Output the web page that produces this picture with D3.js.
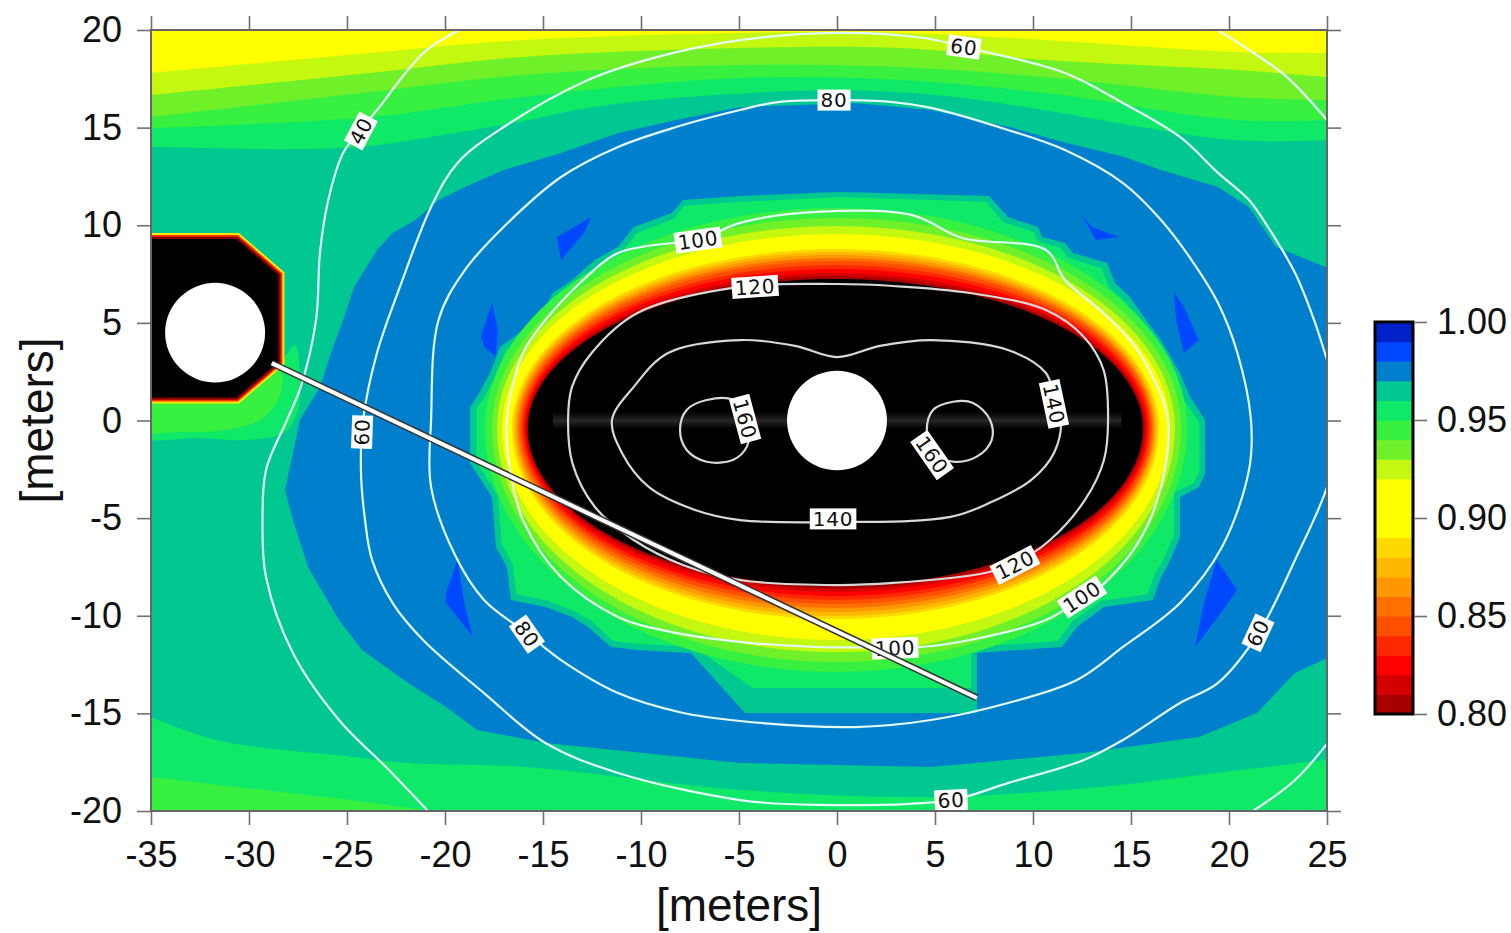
<!DOCTYPE html>
<html><head><meta charset="utf-8">
<script src="https://cdn.jsdelivr.net/npm/d3@7/dist/d3.min.js"></script>
<style>
html,body{margin:0;padding:0;background:#fff;}
svg{display:block;}
text{font-family:"Liberation Sans",Arial,Helvetica,sans-serif;}
</style></head><body>
<svg id="chart" width="1511" height="933"></svg>
<script>
// ---------------- DATA (meters / values) ----------------
const xTicks = [-35,-30,-25,-20,-15,-10,-5,0,5,10,15,20,25];
const yTicks = [-20,-15,-10,-5,0,5,10,15,20];
const cbTicks = [0.80,0.85,0.90,0.95,1.00];
const cbBands = [0.80,0.81,0.82,0.83,0.84,0.85,0.86,0.87,0.88,0.89,0.90,0.91,0.92,0.93,0.94,0.95,0.96,0.97,0.98,0.99];
const bandColors = ["#a80000","#d40000","#ff0000","#ff2800","#ff5000","#ff7000","#ff9800","#ffb800","#ffd800",
  "#ffff00","#ffff00","#ffff00","#c4f810","#70f028","#38f040","#10e868","#00c890","#0080cc","#0048ff","#0020c8"];

// top bands: boundary polylines, values above boundary are below the level
const topBandLevels = [0.96,0.95,0.94,0.93,0.92];
const topBandLines = [
  [[-35,14.01],[-27.40,13.90],[-23.83,14.06],[-19.74,14.68],[-16.02,15.34],[-12.09,16.11],[-4.95,16.75],[0.92,16.90],[5.77,16.60],[10.66,15.88],[15.97,14.96],[20.41,14.35],[25,14.35]],
  [[-35,14.98],[-23.83,15.54],[-16.02,16.57],[-4.95,17.54],[3.21,17.44],[10.66,16.77],[20.41,15.39],[25,15.39]],
  [[-35,15.54],[-23.83,16.82],[-16.02,17.70],[-4.95,18.21],[3.21,18.10],[10.66,17.59],[20.41,16.57],[25,16.41]],
  [[-35,16.67],[-23.83,17.80],[-16.02,18.62],[-4.95,19.08],[3.21,19.08],[10.66,18.46],[20.41,17.95],[25,17.59]],
  [[-35,17.80],[-23.83,18.82],[-16.02,19.49],[-4.95,19.85],[3.21,19.85],[10.66,19.49],[20.41,18.87],[25,18.82]]
];
const bottomBandLevels = [0.96,0.95];
const bottomBandLines = [
  [[-35,-15.19],[-31.68,-16.36],[-24.64,-17.23],[-21.89,-17.54],[-16.02,-17.74],[-4.95,-18.92],[4.80,-19.28],[13.42,-18.77],[18.52,-18.15],[25,-17.38]],
  [[-35,-18.26],[-30.66,-18.77],[-24.85,-19.44],[-20.77,-20.0]]
];
// greens around the left structure
const sideGreenLevels = [0.96,0.95];
const sideGreenRings = [
  [[-35.5,1.31],[-30.46,1.31],[-28.32,3.10],[-27.65,3.87],[-27.40,2.07],[-27.50,0.54],[-28.16,-0.59],[-30.20,-1.00],[-32.50,-0.90],[-35.5,-0.79]],
  [[-35.5,1.25],[-30.61,1.25],[-28.83,2.79],[-28.32,2.33],[-28.52,1.05],[-29.44,0.03],[-31.22,-0.49],[-33.52,-0.59],[-35.5,-0.49]]
];
// outer edge of the 0.97 (blue) zone
const blueOuter = [[-4.95,16.06],[0.92,16.26],[4.80,15.90],[8.72,15.06],[11.63,14.24],[14.59,13.52],[16.53,12.83],[19.44,11.96],[21.02,10.93],[22.40,8.89],[25.6,7.6],[25.6,-11.9],[23.37,-12.93],[21.43,-14.98],[18.47,-16.21],[12.60,-17.03],[4.80,-17.75],[-4.95,-17.54],[-14.85,-16.52],[-18.37,-15.85],[-19.95,-14.67],[-21.89,-13.44],[-24.23,-11.75],[-25.41,-10.22],[-26.99,-7.50],[-27.76,-5.10],[-28.16,-3.56],[-27.40,0.03],[-26.38,1.72],[-25.82,3.46],[-25.20,5.15],[-24.64,6.84],[-23.47,8.73],[-22.67,9.60],[-21.51,10.27],[-20.33,11.29],[-18.98,11.96],[-17.01,12.83],[-14.08,13.70],[-11.17,14.72],[-8.21,15.39]];
// 0.98 patches
const bluePatches = [
  [[-14.29,9.40],[-12.52,10.42],[-12.91,9.60],[-14.08,8.22]],
  [[-17.60,6.02],[-17.30,4.64],[-17.40,3.25],[-17.99,3.76],[-18.18,4.28]],
  [[12.43,10.63],[13.01,9.91],[14.39,9.40],[13.21,9.24]],
  [[17.19,6.58],[17.70,5.81],[18.47,4.12],[17.70,3.46],[17.30,5.15]],
  [[-19.36,-7.14],[-18.98,-9.55],[-18.57,-11.09],[-19.95,-9.35],[-19.95,-8.83]],
  [[19.36,-7.14],[20.43,-8.68],[19.44,-10.06],[18.27,-11.60],[18.67,-9.55]]
];
// inner edge of blue zone (0.97) and of the 0.96 zone
const ring97 = [[-7.86,11.29],[-4.95,11.50],[0.15,11.70],[7.76,11.50],[8.72,10.42],[10.26,9.91],[10.46,9.40],[11.63,9.09],[12.04,8.58],[13.78,8.07],[14.18,7.04],[14.95,6.33],[15.77,5.15],[16.53,4.12],[17.50,2.43],[18.01,1.20],[18.78,0.03],[18.78,-2.69],[18.47,-3.41],[17.50,-3.92],[17.50,-5.97],[16.94,-7.30],[16.53,-8.02],[16.12,-9.19],[13.62,-9.55],[12.24,-10.58],[11.48,-11.60],[7.14,-11.91],[7.14,-14.98],[-4.69,-14.98],[-7.45,-11.91],[-10.20,-11.75],[-11.53,-11.60],[-12.70,-10.58],[-13.52,-10.06],[-14.85,-9.55],[-16.63,-9.19],[-16.84,-7.50],[-17.40,-6.48],[-17.60,-3.92],[-18.72,-2.18],[-18.72,0.69],[-18.37,1.20],[-17.70,2.43],[-17.19,3.76],[-16.02,4.64],[-15.05,5.51],[-14.49,6.53],[-13.52,7.20],[-12.35,8.22],[-11.17,8.89],[-10.36,9.91],[-8.42,10.63]];
const ring96 = [[-7.8,11.0],[-4.95,11.2],[0.15,11.45],[7.6,11.2],[8.5,10.15],[10.05,9.65],[10.25,9.15],[11.4,8.85],[11.8,8.35],[13.5,7.8],[13.9,6.8],[14.7,6.1],[15.5,4.95],[16.25,3.9],[17.2,2.3],[17.7,1.05],[18.5,-0.1],[18.5,-2.6],[18.2,-3.2],[17.2,-3.7],[17.2,-5.85],[16.65,-7.15],[16.25,-7.8],[15.85,-8.9],[13.45,-9.25],[12.0,-10.3],[11.25,-11.3],[6.85,-11.6],[6.85,-13.7],[-4.3,-13.7],[-7.3,-11.6],[-10.1,-11.45],[-11.4,-11.3],[-12.5,-10.3],[-13.35,-9.8],[-14.7,-9.25],[-16.35,-8.9],[-16.55,-7.35],[-17.1,-6.35],[-17.3,-3.85],[-18.4,-2.1],[-18.4,0.65],[-18.05,1.1],[-17.4,2.3],[-16.9,3.6],[-15.75,4.45],[-14.8,5.3],[-14.25,6.3],[-13.3,6.95],[-12.15,7.95],[-11.0,8.6],[-10.2,9.6],[-8.3,10.35]];
// smooth rings around the central structure: extents of each level
const ringLevels = [0.95,0.94,0.93,0.92,0.89,0.88,0.87,0.86,0.85,0.84,0.83,0.82,0.81,0.80];
const ringLeft   = [-17.96,-17.60,-17.35,-17.09,-16.58,-16.48,-16.38,-16.28,-16.17,-16.07,-15.97,-15.89,-15.82,-15.77];
const ringRight  = [17.86,17.55,17.24,16.99,16.43,16.33,16.22,16.15,16.07,15.97,15.87,15.77,15.69,15.61];
const ringTop    = [10.88,10.37,9.96,9.55,8.78,8.63,8.48,8.32,8.17,7.96,7.76,7.55,7.40,7.25];
const ringBottom = [-12.88,-12.37,-11.86,-11.24,-10.17,-10.01,-9.81,-9.60,-9.40,-9.19,-8.99,-8.78,-8.63,-8.48];
const ringWidestY = -0.4;
// structures
const leftBlock = [[-36,9.3],[-30.63,9.3],[-28.5,7.45],[-28.5,3.0],[-30.63,1.18],[-36,1.18]];
const holes = [{cx:0,cy:0,r:2.55},{cx:-31.73,cy:4.5,r:2.55}];
const cable = [[-28.84,2.94],[7.14,-14.21]];
const meshStreak = [[-14.5,-0.45],[14.5,0.45]];

// second field: iso-lines
const contourLines = [
  {v:40, closed:false, pts:[[-18.2,20.5],[-20.92,18.98],[-23.47,15.90],[-24.34,14.83],[-25.20,13.70],[-25.99,11.14],[-26.38,8.58],[-26.58,5.15],[-27.36,1.72],[-28.06,0.03],[-29.13,-2.53],[-29.31,-5.10],[-29.13,-8.02],[-27.76,-11.91],[-25.41,-15.34],[-22.86,-17.90],[-20.4,-20.5]]},
  {v:40, closed:false, pts:[[18.6,20.5],[21.02,18.98],[22.96,17.59],[25.5,14.8]]},
  {v:40, closed:false, pts:[[25.5,-15.9],[23.37,-18.41],[20.6,-20.4]]},
  {v:60, closed:true, pts:[[-4.95,19.48],[-9.20,18.61],[-12.70,17.44],[-17.01,15.03],[-19.36,13.19],[-20.71,10.94],[-22.30,6.84],[-23.47,3.46],[-24.18,0.03],[-24.29,-2.53],[-24.08,-5.10],[-23.72,-7.14],[-22.67,-9.35],[-21.12,-11.24],[-18.01,-13.96],[-14.87,-16.52],[-11.17,-18.05],[-4.95,-19.44],[-1.05,-19.69],[5.79,-19.44],[8.72,-18.57],[12.60,-17.39],[14.59,-16.36],[17.50,-14.47],[19.44,-13.44],[21.51,-10.88],[23.37,-7.14],[25.0,-3.41],[25.51,-1.0],[25.46,1.56],[25.0,3.10],[24.34,5.15],[23.37,7.55],[21.99,9.91],[21.02,11.29],[19.44,12.68],[17.50,14.52],[14.59,16.26],[11.63,17.80],[6.48,19.13],[4.44,19.59],[-0.05,19.85]]},
  {v:80, closed:true, pts:[[-20.71,0.03],[-20.71,-3.41],[-19.49,-6.89],[-18.01,-9.19],[-15.84,-10.88],[-14.08,-12.27],[-11.17,-13.96],[-8.01,-14.94],[-4.95,-15.39],[0.92,-15.70],[4.80,-15.34],[8.72,-14.47],[12.24,-13.29],[14.59,-11.60],[17.50,-9.35],[19.64,-6.48],[21.02,-2.53],[21.12,0.03],[20.43,3.46],[19.44,6.02],[18.09,8.22],[16.53,10.27],[14.59,12.16],[11.63,13.85],[8.72,14.88],[4.80,16.01],[2.86,16.31],[-0.15,16.41],[-3.01,16.31],[-4.95,15.90],[-8.21,15.03],[-11.17,14.01],[-14.08,12.47],[-17.01,9.91],[-18.98,7.71],[-20.33,5.15]]},
  {v:100, closed:true, pts:[[-16.84,0.03],[-16.68,-2.53],[-16.02,-5.10],[-14.08,-8.02],[-11.17,-10.06],[-8.21,-10.88],[-4.95,-11.34],[-1.05,-11.60],[2.86,-11.60],[4.23,-11.60],[6.79,-11.24],[10.66,-10.22],[12.60,-9.04],[13.42,-8.53],[15.36,-6.27],[16.53,-3.41],[16.89,0.03],[15.94,2.59],[14.95,4.12],[13.60,5.51],[11.63,7.20],[10.66,8.73],[6.38,9.35],[3.83,10.52],[-1.05,10.68],[-4.95,10.12],[-7.04,9.24],[-8.42,9.09],[-11.17,8.58],[-13.11,7.04],[-14.87,5.15],[-16.02,3.46]]},
  {v:120, closed:true, pts:[[-13.72,0.03],[-13.50,-2.18],[-12.35,-4.43],[-10.37,-6.12],[-7.86,-7.40],[-4.95,-8.17],[0.0,-8.43],[2.86,-8.32],[7.55,-7.81],[9.11,-7.30],[10.87,-6.12],[12.65,-4.07],[13.62,-2.02],[13.83,0.03],[13.60,2.59],[12.60,4.28],[10.66,5.66],[6.79,6.53],[2.86,6.89],[0.0,6.99],[-4.95,6.84],[-10.18,5.51],[-12.52,3.46],[-13.52,1.72]]},
  {v:140, closed:true, pts:[[-11.48,0.03],[-10.97,-1.66],[-9.59,-3.41],[-7.24,-4.58],[-4.95,-5.10],[0.0,-5.20],[5.79,-4.94],[7.76,-4.23],[9.90,-3.05],[11.07,-1.66],[11.43,0.03],[11.07,1.20],[10.66,2.43],[8.72,3.61],[4.80,4.12],[2.19,3.82],[0.0,3.25],[-2.14,3.82],[-4.95,4.12],[-8.62,3.46],[-10.37,1.72]]},
  {v:160, closed:true, pts:[[-8.01,-0.49],[-7.67,0.54],[-6.65,1.05],[-5.31,1.05],[-4.54,-0.23],[-4.60,-1.34],[-5.31,-2.02],[-6.65,-2.11],[-7.67,-1.51]]},
  {v:160, closed:true, pts:[[4.58,-0.49],[4.90,0.54],[5.92,0.96],[6.94,0.90],[7.81,0.03],[7.89,-1.0],[7.13,-1.85],[5.92,-2.11],[4.90,-1.66]]}
];
const contourLabels = [
  {t:"40",x:-24.29,y:14.83,a:-62},{t:"60",x:6.48,y:19.13,a:8},{t:"80",x:-0.15,y:16.41,a:0},
  {t:"100",x:-7.09,y:9.24,a:-8},{t:"120",x:-4.18,y:6.84,a:-4},{t:"140",x:11.07,y:0.85,a:78},
  {t:"160",x:-4.69,y:0.08,a:75},{t:"160",x:4.85,y:-1.77,a:55},{t:"60",x:-24.23,y:-0.59,a:-88},
  {t:"80",x:-15.82,y:-10.94,a:55},{t:"140",x:-0.2,y:-5.04,a:0},{t:"120",x:9.08,y:-7.40,a:-27},
  {t:"100",x:12.50,y:-9.04,a:-33},{t:"100",x:2.96,y:-11.66,a:-2},{t:"60",x:21.48,y:-10.88,a:-65},
  {t:"60",x:5.82,y:-19.44,a:-3}
];

// ---------------- DRAWING ----------------
const svg = d3.select("#chart");
const x = d3.scaleLinear().domain([-35,25]).range([151,1327]);
const y = d3.scaleLinear().domain([-20,20]).range([811,30]);
const colorOf = v => v < 0.80 ? "#000000" : bandColors[Math.min(19, Math.floor((v-0.80)/0.01 + 1e-6))];

const defs = svg.append("defs");
defs.append("clipPath").attr("id","pc").append("rect")
  .attr("x",x(-35)).attr("y",y(20)).attr("width",x(25)-x(-35)).attr("height",y(-20)-y(20));
const vg = defs.append("linearGradient").attr("id","streakV").attr("x1",0).attr("y1",0).attr("x2",0).attr("y2",1);
vg.append("stop").attr("offset","0%").attr("stop-color","#555").attr("stop-opacity",0);
vg.append("stop").attr("offset","50%").attr("stop-color","#555").attr("stop-opacity",0.45);
vg.append("stop").attr("offset","100%").attr("stop-color","#555").attr("stop-opacity",0);
const plot = svg.append("g").attr("clip-path","url(#pc)");

const poly = d3.line().x(d=>x(d[0])).y(d=>y(d[1])).curve(d3.curveLinearClosed);
const smooth = d3.line().x(d=>x(d[0])).y(d=>y(d[1])).curve(d3.curveCatmullRom.alpha(0.5));
const smoothClosed = d3.line().x(d=>x(d[0])).y(d=>y(d[1])).curve(d3.curveCatmullRomClosed.alpha(0.5));

// background zone (0.96-0.97)
plot.append("rect").attr("x",x(-35)).attr("y",y(20)).attr("width",x(25)-x(-35)).attr("height",y(-20)-y(20))
  .attr("fill",colorOf(0.965));

topBandLines.forEach((ln,i)=>{
  plot.append("path").attr("d", smooth(ln)+`L${x(25.5)},${y(20.5)}L${x(-35.5)},${y(20.5)}Z`)
    .attr("fill",colorOf(topBandLevels[i]-0.005));
});
bottomBandLines.forEach((ln,i)=>{
  plot.append("path").attr("d", smooth(ln)+`L${x(25.5)},${y(-20.5)}L${x(-35.5)},${y(-20.5)}Z`)
    .attr("fill",colorOf(bottomBandLevels[i]-0.005));
});
sideGreenRings.forEach((r,i)=>{
  plot.append("path").attr("d",smoothClosed(r)).attr("fill",colorOf(sideGreenLevels[i]-0.005));
});
plot.append("path").attr("d",poly(blueOuter)).attr("fill",colorOf(0.975));
bluePatches.forEach(p=>plot.append("path").attr("d",poly(p)).attr("fill",colorOf(0.985)));
plot.append("path").attr("d",poly(ring97)).attr("fill",colorOf(0.965));
plot.append("path").attr("d",poly(ring96)).attr("fill",colorOf(0.955));

let coreD = null;
ringLevels.forEach((lv,i)=>{
  const L=ringLeft[i], R=ringRight[i], T=ringTop[i], B=ringBottom[i];
  const cx=(L+R)/2, rx=(R-L)/2;
  const pts=d3.range(0,360,2).map(a=>{const t=a*Math.PI/180, s=Math.sin(t);
    return [cx+rx*Math.cos(t), ringWidestY + (s>=0?(T-ringWidestY):(ringWidestY-B))*s];});
  const d = poly(pts);
  if (lv<=0.80) coreD = d;
  plot.append("path").attr("d",d).attr("fill", lv<=0.80 ? "#000" : colorOf(lv-0.005));
});
// faint mesh streak inside the core
defs.append("clipPath").attr("id","corec").append("path").attr("d",coreD);
plot.append("g").attr("clip-path","url(#corec)").append("rect")
  .attr("x",x(meshStreak[0][0])).attr("y",y(meshStreak[1][1]))
  .attr("width",x(meshStreak[1][0])-x(meshStreak[0][0])).attr("height",y(meshStreak[0][1])-y(meshStreak[1][1]))
  .attr("fill","url(#streakV)");

// holes
holes.forEach(h=>{
  plot.append("ellipse").attr("cx",x(h.cx)).attr("cy",y(h.cy))
    .attr("rx",x(h.r)-x(0)).attr("ry",y(0)-y(h.r)).attr("fill","#fff");
});

// left block with thin coloured rim
const blockPath = poly(leftBlock);
plot.append("path").attr("d",blockPath).attr("fill","none").attr("stroke","#ffe800").attr("stroke-width",12).attr("stroke-linejoin","miter");
plot.append("path").attr("d",blockPath).attr("fill","none").attr("stroke","#ff3000").attr("stroke-width",8).attr("stroke-linejoin","miter");
plot.append("path").attr("d",blockPath).attr("fill","none").attr("stroke","#8a0000").attr("stroke-width",4.5).attr("stroke-linejoin","miter");
plot.append("path").attr("d",blockPath).attr("fill","#000");
plot.append("ellipse").attr("cx",x(holes[1].cx)).attr("cy",y(holes[1].cy))
  .attr("rx",x(holes[1].r)-x(0)).attr("ry",y(0)-y(holes[1].r)).attr("fill","#fff");

// iso-lines
contourLines.forEach(c=>{
  plot.append("path").attr("d", c.closed ? smoothClosed(c.pts) : smooth(c.pts))
    .attr("fill","none").attr("stroke", c.v>=120 ? "#d8d8d8" : "#e4fafa").attr("stroke-width",2.2);
});
// labels
contourLabels.forEach(l=>{
  const g = plot.append("g").attr("transform",`translate(${x(l.x)},${y(l.y)}) rotate(${l.a})`);
  const t = g.append("text").text(l.t).attr("text-anchor","middle").attr("dy","0.36em")
    .style("font-family","'DejaVu Sans',sans-serif").style("font-size","20px").style("letter-spacing","0.8px").attr("fill","#111");
  const bb = t.node().getBBox();
  g.insert("rect","text").attr("x",bb.x-3).attr("y",-10.5).attr("width",bb.width+6).attr("height",21).attr("fill","#fff");
});

// cable line
const cablePath = d3.line().x(d=>x(d[0])).y(d=>y(d[1]))(cable);
plot.append("path").attr("d",cablePath).attr("stroke","#333").attr("stroke-width",7).attr("fill","none");
plot.append("path").attr("d",cablePath).attr("stroke","#fff").attr("stroke-width",4).attr("fill","none");

// frame & axes
const axisColor = "#707070";
function styleAxis(g){
  g.select(".domain").remove();
  g.selectAll(".tick line").attr("stroke",axisColor).attr("stroke-width",1.6);
  g.selectAll(".tick text").attr("fill","#111").style("font-size","36px").style("font-family","'Liberation Sans',Arial,sans-serif");
}
const fmt = d => String(d);
svg.append("g").attr("transform",`translate(0,${y(-20)})`)
  .call(d3.axisBottom(x).tickValues(xTicks).tickFormat(fmt).tickSize(14).tickPadding(16)).call(styleAxis);
svg.append("g").attr("transform",`translate(${x(-35)},0)`)
  .call(d3.axisLeft(y).tickValues(yTicks).tickFormat(fmt).tickSize(14).tickPadding(15)).call(styleAxis);
svg.append("g").attr("transform",`translate(0,${y(20)})`)
  .call(d3.axisTop(x).tickValues(xTicks).tickFormat("").tickSize(14)).call(styleAxis);
svg.append("g").attr("transform",`translate(${x(25)},0)`)
  .call(d3.axisRight(y).tickValues(yTicks).tickFormat("").tickSize(14)).call(styleAxis);
svg.append("rect").attr("x",x(-35)).attr("y",y(20)).attr("width",x(25)-x(-35)).attr("height",y(-20)-y(20))
  .attr("fill","none").attr("stroke","#666").attr("stroke-width",2);

svg.append("text").attr("x",(x(-35)+x(25))/2).attr("y",921).attr("text-anchor","middle")
  .style("font-size","46px").attr("fill","#111").text("[meters]");
svg.append("text").attr("transform",`translate(53,${(y(20)+y(-20))/2}) rotate(-90)`).attr("text-anchor","middle")
  .style("font-size","46px").attr("fill","#111").text("[meters]");

// colour bar
const cb = d3.scaleLinear().domain([0.80,1.00]).range([714,322]);
cbBands.forEach((v,i)=>{
  svg.append("rect").attr("x",1375).attr("width",38).attr("y",cb(v+0.01)).attr("height",cb(v)-cb(v+0.01)+0.6)
    .attr("fill",bandColors[i]);
});
svg.append("rect").attr("x",1375).attr("y",cb(1.0)).attr("width",38).attr("height",cb(0.8)-cb(1.0))
  .attr("fill","none").attr("stroke","#000").attr("stroke-width",3);
svg.append("g").attr("transform","translate(1415,0)")
  .call(d3.axisRight(cb).tickValues(cbTicks).tickFormat(d3.format(".2f")).tickSize(12).tickPadding(10)).call(styleAxis);
</script>
</body></html>
